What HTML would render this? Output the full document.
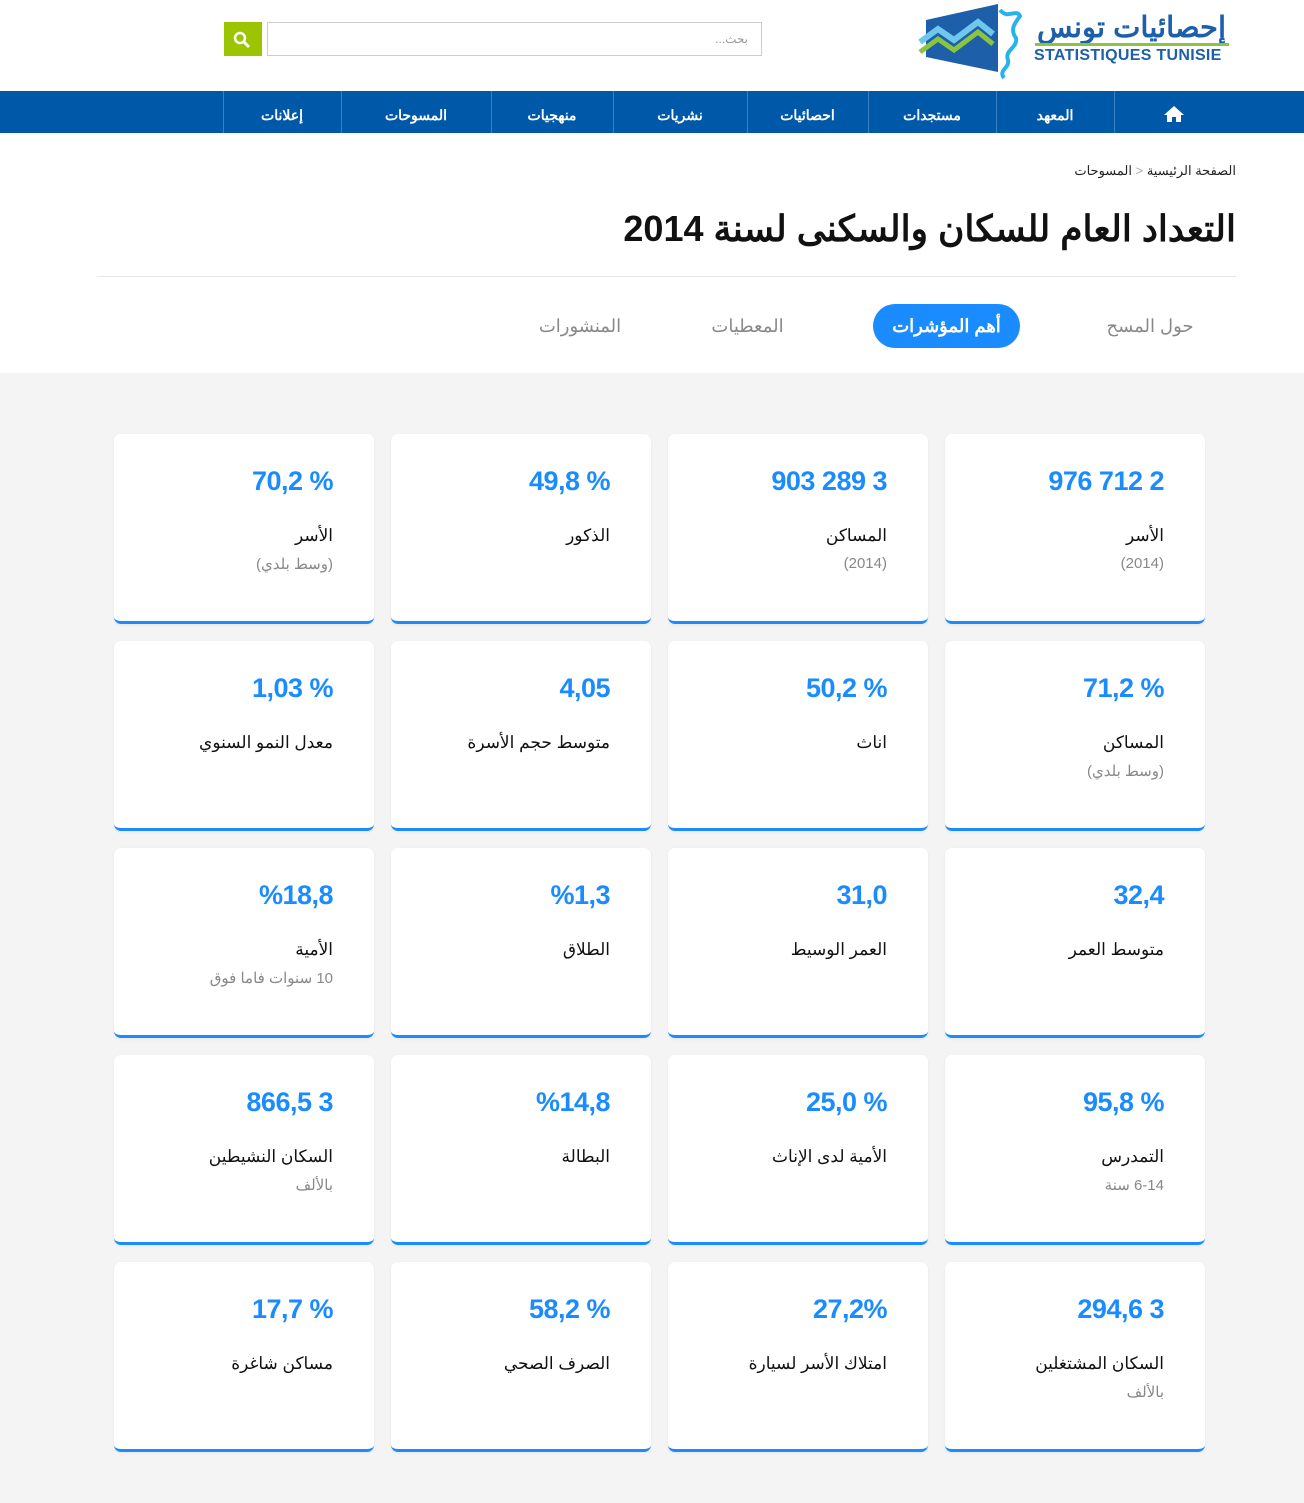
<!DOCTYPE html>
<html><head><meta charset="utf-8"><style>
*{margin:0;padding:0;box-sizing:border-box}
body{width:1304px;height:1503px;position:relative;background:#fff;font-family:"Liberation Sans","Noto Sans CJK SC",sans-serif;overflow:hidden}
.abs{position:absolute}
.nav{left:0;top:91px;width:1304px;height:42px;background:#0058a9}
.sep{top:91px;width:1px;height:42px;background:#3d7fc0}
.ni{top:91px;height:42px;line-height:48px;color:#fff;font-weight:bold;font-size:14px;text-align:center}
.gray{left:0;top:373px;width:1304px;height:1130px;background:#f4f4f5}
.card{width:260px;height:190px;background:#fff;border-radius:7px;border-bottom:3px solid #1a8cff;box-shadow:0 1px 3px rgba(0,0,0,.06)}
.card .n{position:absolute;right:41px;top:32px;font-size:27px;font-weight:bold;letter-spacing:-0.5px;color:#1a8cff;direction:ltr;white-space:nowrap}
.card .l{position:absolute;right:41px;top:92px;font-size:17px;color:#111;direction:rtl;white-space:nowrap}
.card .s{position:absolute;right:41px;top:121px;font-size:15px;color:#888;direction:rtl;white-space:nowrap}
.tab{top:304px;height:44px;line-height:44px;font-size:18px;color:#888;direction:rtl;text-align:center}
</style></head><body>
<svg class="abs" style="left:918px;top:2px" width="105" height="80" viewBox="0 0 105 80">
<polygon points="8,18 80,2 80,70 8,55" fill="#1d5fa8"/>
<polyline points="2,40 20,27 36,38 60,20 75,32" fill="none" stroke="#6fc7ee" stroke-width="6"/>
<polyline points="2,50 20,37 36,48 60,30 75,42" fill="none" stroke="#8bc53f" stroke-width="5"/>
<path d="M82,8 C90,18 98,6 102,14 C96,22 92,28 98,36 C100,46 86,48 90,58 C92,66 80,68 86,76" fill="none" stroke="#27b4e8" stroke-width="4"/>
</svg>
<div class="abs" style="left:1033px;top:10px;width:197px;font-size:29px;font-weight:bold;color:#1d5fa8;direction:rtl;text-align:center;line-height:36px">إحصائيات تونس</div>
<div class="abs" style="left:1035px;top:43px;width:194px;height:3px;background:#8bc53f"></div>
<div class="abs" style="left:1034px;top:47px;font-size:16px;font-weight:bold;color:#1d5fa8;letter-spacing:.3px">STATISTIQUES TUNISIE</div>
<div class="abs" style="left:224px;top:22px;width:38px;height:34px;background:#9cc400"></div>
<svg class="abs" style="left:232px;top:30px" width="20" height="20"><circle cx="8" cy="8" r="5" fill="none" stroke="#fff" stroke-width="2.5"/><line x1="12" y1="12" x2="17" y2="17" stroke="#fff" stroke-width="3"/></svg>
<div class="abs" style="left:267px;top:22px;width:495px;height:34px;border:1px solid #ccc"></div>
<div class="abs" style="left:700px;top:32px;width:48px;font-size:12px;color:#999;text-align:right;direction:rtl">بحث...</div>
<div class="abs nav"></div>
<div class="abs sep" style="left:223px"></div><div class="abs sep" style="left:341px"></div><div class="abs sep" style="left:491px"></div><div class="abs sep" style="left:613px"></div><div class="abs sep" style="left:747px"></div><div class="abs sep" style="left:868px"></div><div class="abs sep" style="left:996px"></div><div class="abs sep" style="left:1114px"></div>
<div class="abs ni" style="left:223px;width:118px">إعلانات</div>
<div class="abs ni" style="left:341px;width:150px">المسوحات</div>
<div class="abs ni" style="left:491px;width:122px">منهجيات</div>
<div class="abs ni" style="left:613px;width:134px">نشريات</div>
<div class="abs ni" style="left:747px;width:121px">احصائيات</div>
<div class="abs ni" style="left:868px;width:128px">مستجدات</div>
<div class="abs ni" style="left:996px;width:118px">المعهد</div>
<svg class="abs" style="left:1163px;top:105px" width="22" height="18"><polygon points="11,1 21,10 18,10 18,17 13,17 13,12 9,12 9,17 4,17 4,10 1,10" fill="#fff"/></svg>
<div class="abs" style="right:68px;top:163px;font-size:13px;color:#222;direction:rtl;white-space:nowrap">الصفحة الرئيسية <span style="color:#aaa">&lt;</span> المسوحات</div>
<div class="abs" style="right:68px;top:208px;font-size:36px;font-weight:bold;color:#111;direction:rtl;white-space:nowrap">التعداد العام للسكان والسكنى لسنة 2014</div>
<div class="abs" style="left:97px;top:276px;width:1139px;height:1px;background:#e8e8e8"></div>
<div class="abs tab" style="left:1090px;width:120px">حول المسح</div>
<div class="abs tab" style="left:873px;width:147px;background:#1a8cff;color:#fff;border-radius:22px;font-weight:bold">أهم المؤشرات</div>
<div class="abs tab" style="left:690px;width:115px">المعطيات</div>
<div class="abs tab" style="left:520px;width:120px">المنشورات</div>
<div class="abs gray"></div>
<div class="abs card" style="left:945px;top:434px"><div class="n">976 712 2</div><div class="l">الأسر</div><div class="s">(2014)</div></div>
<div class="abs card" style="left:668px;top:434px"><div class="n">903 289 3</div><div class="l">المساكن</div><div class="s">(2014)</div></div>
<div class="abs card" style="left:391px;top:434px"><div class="n">49,8 %</div><div class="l">الذكور</div></div>
<div class="abs card" style="left:114px;top:434px"><div class="n">70,2 %</div><div class="l">الأسر</div><div class="s">(وسط بلدي)</div></div>

<div class="abs card" style="left:945px;top:641px"><div class="n">71,2 %</div><div class="l">المساكن</div><div class="s">(وسط بلدي)</div></div>
<div class="abs card" style="left:668px;top:641px"><div class="n">50,2 %</div><div class="l">اناث</div></div>
<div class="abs card" style="left:391px;top:641px"><div class="n">4,05</div><div class="l">متوسط حجم الأسرة</div></div>
<div class="abs card" style="left:114px;top:641px"><div class="n">1,03 %</div><div class="l">معدل النمو السنوي</div></div>

<div class="abs card" style="left:945px;top:848px"><div class="n">32,4</div><div class="l">متوسط العمر</div></div>
<div class="abs card" style="left:668px;top:848px"><div class="n">31,0</div><div class="l">العمر الوسيط</div></div>
<div class="abs card" style="left:391px;top:848px"><div class="n">%1,3</div><div class="l">الطلاق</div></div>
<div class="abs card" style="left:114px;top:848px"><div class="n">%18,8</div><div class="l">الأمية</div><div class="s">10 سنوات فاما فوق</div></div>

<div class="abs card" style="left:945px;top:1055px"><div class="n">95,8 %</div><div class="l">التمدرس</div><div class="s">6-14 سنة</div></div>
<div class="abs card" style="left:668px;top:1055px"><div class="n">25,0 %</div><div class="l">الأمية لدى الإناث</div></div>
<div class="abs card" style="left:391px;top:1055px"><div class="n">%14,8</div><div class="l">البطالة</div></div>
<div class="abs card" style="left:114px;top:1055px"><div class="n">866,5 3</div><div class="l">السكان النشيطين</div><div class="s">بالألف</div></div>

<div class="abs card" style="left:945px;top:1262px"><div class="n">294,6 3</div><div class="l">السكان المشتغلين</div><div class="s">بالألف</div></div>
<div class="abs card" style="left:668px;top:1262px"><div class="n">27,2%</div><div class="l">امتلاك الأسر لسيارة</div></div>
<div class="abs card" style="left:391px;top:1262px"><div class="n">58,2 %</div><div class="l">الصرف الصحي</div></div>
<div class="abs card" style="left:114px;top:1262px"><div class="n">17,7 %</div><div class="l">مساكن شاغرة</div></div>
</body></html>
